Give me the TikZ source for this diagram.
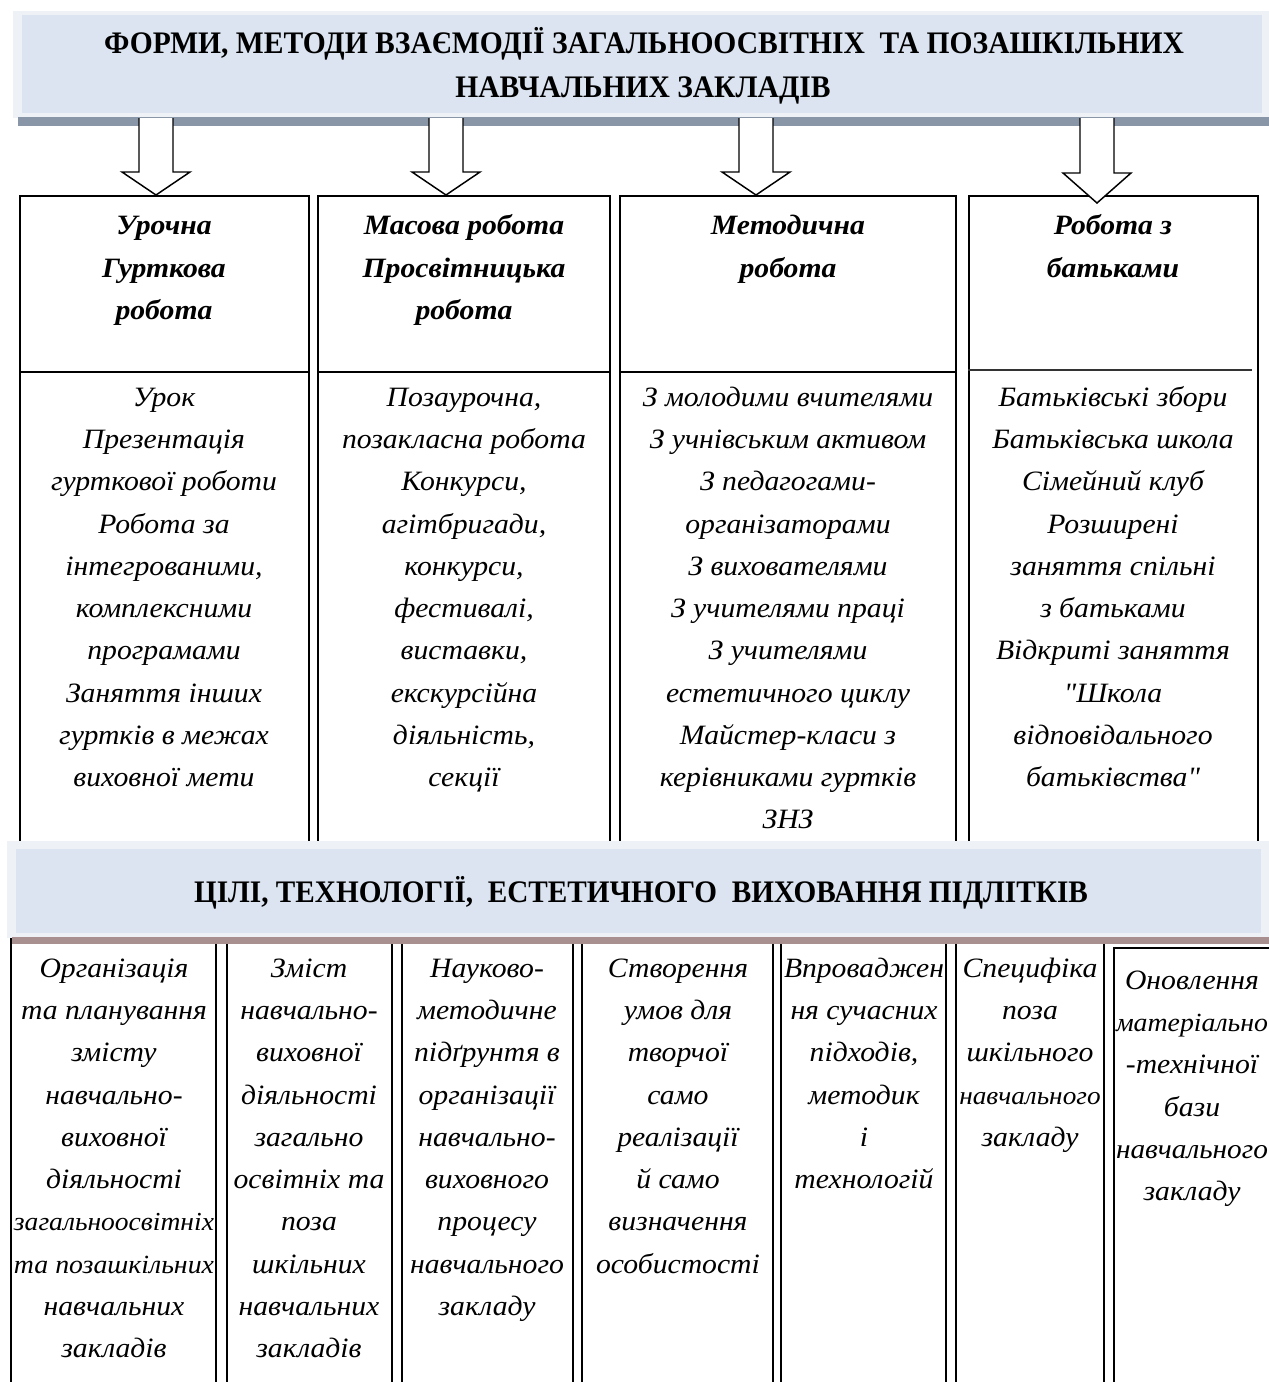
\documentclass[tikz,border=0pt]{standalone}
\usepackage{fontspec}
\setmainfont{Liberation Serif}[FakeStretch=1.06]
\newfontfamily\qfont{Liberation Serif}[FakeStretch=1.06]
\usetikzlibrary{fit}
\definecolor{bannerblue}{HTML}{DBE4F0}
\definecolor{glow}{HTML}{EEF1F5}
\definecolor{shadowtop}{HTML}{8896A8}
\definecolor{shadowbot}{HTML}{A89090}
\newcommand\blockarrow[3]{%
  \draw[blockarrow] (#1-17,118) -- (#1-17,#3) -- (#1-34,#3) -- (#1,#2) -- (#1+34,#3) -- (#1+17,#3) -- (#1+17,118);}
\newcommand\qq{{\qfont\itshape"}}
\newcommand\fitto[2]{\sbox0{#2}\ifdim\wd0>#1\resizebox{#1}{!}{#2}\else\usebox0\fi}
\begin{document}
\begin{tikzpicture}[x=0.75pt,y=-0.75pt,
  boxframe/.style={draw=black, line width=1.1pt, inner sep=0pt},
  blockarrow/.style={draw=black, fill=white, line width=1.1pt, line join=miter},
  body/.style={font=\fontsize{21}{31.7}\selectfont\itshape, align=center, inner sep=0pt, anchor=north},
  head/.style={font=\fontsize{21}{31.7}\selectfont\bfseries\itshape, align=center, inner sep=0pt, anchor=north},
  title/.style={font=\fontsize{23.5}{30}\selectfont\bfseries, inner sep=0pt, anchor=base}]
\useasboundingbox (0,0) rectangle (1269,1382);
\clip (0,0) rectangle (1269,1382);

% ---------- top banner ----------
\fill[glow] (13,11) rectangle (1269,118);
\fill[shadowtop] (18,117) rectangle (1269,126);
\node[fit={(22,15) (1262,113)}, inner sep=0pt, fill=bannerblue] (banner1) {};
\node[title] (title1a) at (644,53) {\scalebox{0.89}[1]{ФОРМИ, МЕТОДИ ВЗАЄМОДІЇ ЗАГАЛЬНООСВІТНІХ\ \ ТА ПОЗАШКІЛЬНИХ}};
\node[title] (title1b) at (643,97) {\scalebox{0.89}[1]{НАВЧАЛЬНИХ ЗАКЛАДІВ}};

% ---------- top boxes ----------
\node[boxframe, fit={(20,196) (309,850)}] (t1) {};
\node[boxframe, fit={(318,196) (610,850)}] (t2) {};
\node[boxframe, fit={(620,196) (956,850)}] (t3) {};
\node[boxframe, fit={(969,196) (1258,850)}] (t4) {};
\draw[line width=1.1pt] (t1.west |- 0,372) -- (t1.east |- 0,372);
\draw[line width=1.1pt] (t2.west |- 0,372) -- (t2.east |- 0,372);
\draw[line width=1.1pt] (t3.west |- 0,372) -- (t3.east |- 0,372);
\draw[line width=1.1pt, draw=black!80] (t4.west |- 0,370) -- (1252,370);

% ---------- block arrows ----------
\blockarrow{156}{195}{172}
\blockarrow{446}{195}{172}
\blockarrow{756}{195}{172}
\blockarrow{1097}{203}{173}

% ---------- bottom boxes ----------
\node[boxframe, fit={(11,936) (216,1400)}] (b1) {};
\node[boxframe, fit={(227,936) (392,1400)}] (b2) {};
\node[boxframe, fit={(402,936) (573,1400)}] (b3) {};
\node[boxframe, fit={(582,936) (773,1400)}] (b4) {};
\node[boxframe, fit={(781,936) (946,1400)}] (b5) {};
\node[boxframe, fit={(956,936) (1104,1400)}] (b6) {};
\node[boxframe, fit={(1114,948) (1290,1400)}] (b7) {};

% ---------- bottom banner ----------
\fill[glow] (7,841) rectangle (1269,938);
\fill[shadowbot] (12,937) rectangle (1269,944);
\node[fit={(16,849) (1261,933)}, inner sep=0pt, fill=bannerblue] (banner2) {};
\node[title] (title2) at (641,902) {\scalebox{0.88}[1]{ЦІЛІ, ТЕХНОЛОГІЇ,\ \ ЕСТЕТИЧНОГО\ \ ВИХОВАННЯ ПІДЛІТКІВ}};

% ---------- top box texts ----------
\node[head] (h1) at (164,205) {\strut Урочна\\Гурткова\\робота};
\node[head] (h2) at (464,205) {\strut Масова робота\\Просвітницька\\робота};
\node[head] (h3) at (788,205) {\strut Методична\\робота};
\node[head] (h4) at (1113,205) {\strut Робота з\\батьками};

\node[body] (c1) at (164,376.4) {\strut Урок\\Презентація\\гурткової роботи\\Робота за\\інтегрованими,\\комплексними\\програмами\\Заняття інших\\гуртків в межах\\виховної мети};
\node[body] (c2) at (464,376.4) {\strut Позаурочна,\\позакласна робота\\Конкурси,\\агітбригади,\\конкурси,\\фестивалі,\\виставки,\\екскурсійна\\діяльність,\\секції};
\node[body] (c3) at (788,376.4) {\strut З молодими вчителями\\З учнівським активом\\З педагогами-\\організаторами\\З вихователями\\З учителями праці\\З учителями\\естетичного циклу\\Майстер-класи з\\керівниками гуртків\\ЗНЗ};
\node[body] (c4) at (1113,376.4) {\strut Батьківські збори\\Батьківська школа\\Сімейний клуб\\Розширені\\заняття спільні\\з батьками\\Відкриті заняття\\\qq Школа\\відповідального\\батьківства\qq};

% ---------- bottom box texts ----------
\node[body] (d1) at (114,947.4) {\strut Організація\\\fitto{150pt}{та планування}\\змісту\\навчально-\\виховної\\діяльності\\\fitto{150pt}{загальноосвітніх}\\\fitto{150pt}{та позашкільних}\\навчальних\\закладів};
\node[body] (d2) at (309,947.4) {\strut Зміст\\навчально-\\виховної\\діяльності\\загально\\освітніх та\\поза\\шкільних\\навчальних\\закладів};
\node[body] (d3) at (487,947.4) {\strut Науково-\\методичне\\підґрунтя в\\організації\\навчально-\\виховного\\процесу\\навчального\\закладу};
\node[body] (d4) at (678,947.4) {\strut Створення\\умов для\\творчої\\само\\реалізації\\й само\\визначення\\особистості};
\node[body] (d5) at (864,947.4) {\strut \fitto{120pt}{Впроваджен}\\ня сучасних\\підходів,\\методик\\і\\технологій};
\node[body] (d6) at (1030,947.4) {\strut Специфіка\\поза\\шкільного\\\fitto{106pt}{навчального}\\закладу};
\node[body] (d7) at (1192,959.4) {\strut Оновлення\\\fitto{114pt}{матеріально}\\-технічної\\бази\\\fitto{114pt}{навчального}\\закладу};
\end{tikzpicture}
\end{document}
